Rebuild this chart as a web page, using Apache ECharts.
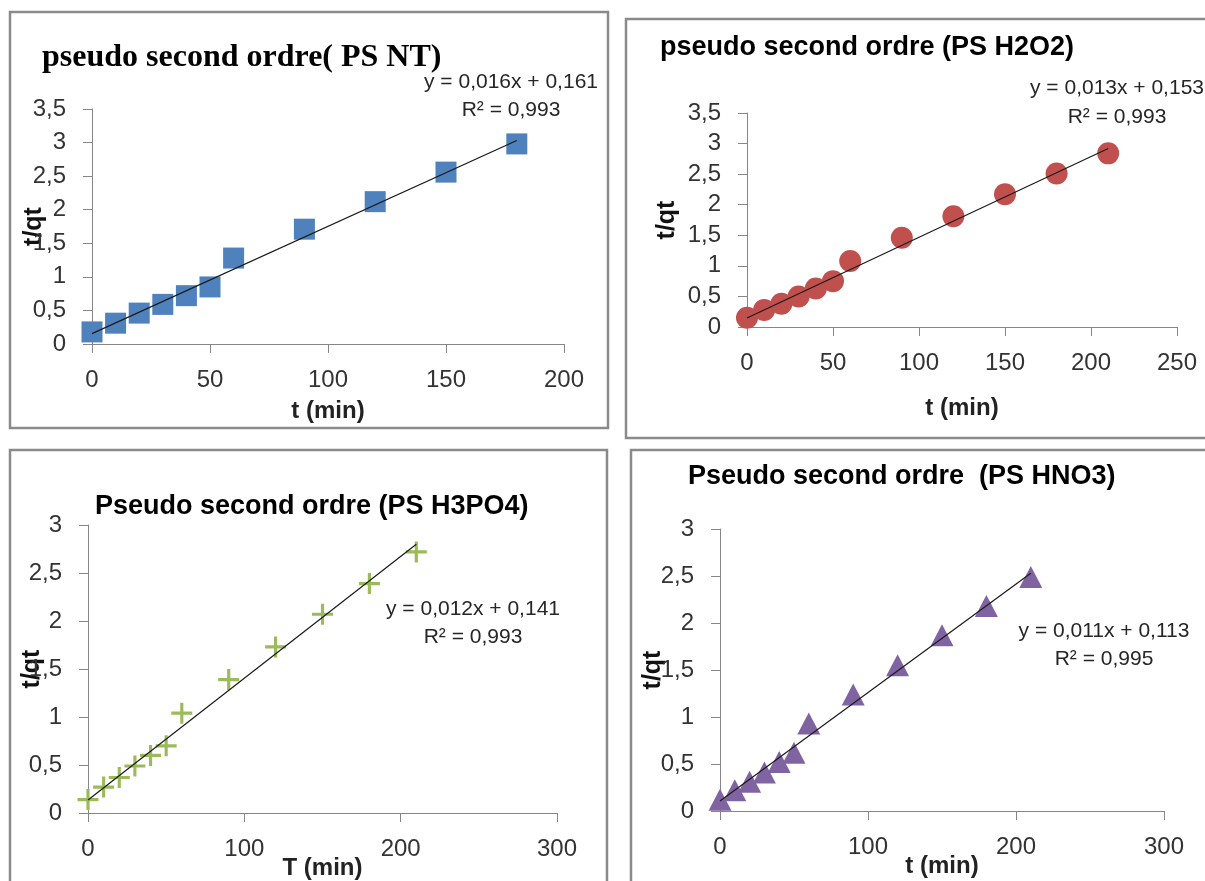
<!DOCTYPE html>
<html>
<head>
<meta charset="utf-8">
<script src="https://cdn.jsdelivr.net/npm/echarts@6/dist/echarts.min.js"></script>
<style>
html,body{margin:0;padding:0;background:#fff;}
#chart{width:1205px;height:881px;}
</style>
</head>
<body>
<div id="chart"></div>
<script>
// ---- data ----
const titles = ['pseudo second ordre( PS NT)', 'pseudo second ordre (PS H2O2)', 'Pseudo second ordre (PS H3PO4)', 'Pseudo second ordre  (PS HNO3)'];
const xNames = ['t (min)', 't (min)', 'T (min)', 't (min)'];
const yName = 't/qt';
const eqTexts = ['y = 0,016x + 0,161', 'y = 0,013x + 0,153', 'y = 0,012x + 0,141', 'y = 0,011x + 0,113'];
const r2Texts = ['R² = 0,993', 'R² = 0,993', 'R² = 0,993', 'R² = 0,995'];

const tNT = [0, 10, 20, 30, 40, 50, 60, 90, 120, 150, 180];
const qNT = [0.18, 0.31, 0.46, 0.59, 0.72, 0.85, 1.28, 1.71, 2.12, 2.56, 2.98];
const tH2O2 = [0, 10, 20, 30, 40, 50, 60, 90, 120, 150, 180, 210];
const qH2O2 = [0.15, 0.28, 0.38, 0.50, 0.63, 0.75, 1.08, 1.46, 1.81, 2.17, 2.51, 2.84];
const tH3PO4 = [0, 10, 20, 30, 40, 50, 60, 90, 120, 150, 180, 210];
const qH3PO4 = [0.14, 0.27, 0.37, 0.49, 0.60, 0.70, 1.04, 1.39, 1.73, 2.07, 2.39, 2.72];
const tHNO3 = [0, 10, 20, 30, 40, 50, 60, 90, 120, 150, 180, 210];
const qHNO3 = [0.12, 0.22, 0.31, 0.41, 0.52, 0.62, 0.93, 1.24, 1.55, 1.87, 2.18, 2.49];

// trend line end points (as drawn in the picture)
const fitNT = [[0, 0.155], [180, 3.03]];
const fitH2O2 = [[0, 0.147], [210, 2.92]];
const fitH3PO4 = [[0, 0.135], [210, 2.80]];
const fitHNO3 = [[0, 0.106], [210, 2.53]];

// axis ranges / ticks
const xMax = [200, 250, 300, 300];
const xStep = [50, 50, 100, 100];
const yMax = [3.5, 3.5, 3, 3];
const yStep = [0.5, 0.5, 0.5, 0.5];

// ---- layout ----
const SANS = '"Liberation Sans", Arial, sans-serif';
const panels = [
  { t: tNT, q: qNT, fit: fitNT, color: '#4F81BD', symbol: 'rect', size: 21,
    grid: { left: 92, top: 109, width: 472, height: 235 },
    xGap: 55, yGap: 45, border: [10, 12, 598, 416],
    title: { x: 42, y: 58, font: 'bold 32px "Liberation Serif", "Times New Roman", serif' },
    eq: { x: 511, y1: 82, y2: 110 } },
  { t: tH2O2, q: qH2O2, fit: fitH2O2, color: '#C0504D', symbol: 'circle', size: 22,
    grid: { left: 747, top: 113, width: 430, height: 214 },
    xGap: 69, yGap: 67, border: [626, 19, 620, 419],
    title: { x: 660, y: 48, font: 'bold 27px ' + SANS },
    eq: { x: 1117, y1: 88, y2: 117 } },
  { t: tH3PO4, q: qH3PO4, fit: fitH3PO4, color: '#9BBB59', symbol: 'path://M8.5,0h3v8.5h8.5v3h-8.5v8.5h-3v-8.5h-8.5v-3h8.5z', size: 21,
    grid: { left: 88, top: 525, width: 469, height: 288 },
    xGap: 43, yGap: 43, border: [10, 450, 597, 460],
    title: { x: 95, y: 507, font: 'bold 27px ' + SANS },
    eq: { x: 473, y1: 609, y2: 637 } },
  { t: tHNO3, q: qHNO3, fit: fitHNO3, color: '#8064A2', symbol: 'triangle', size: [23, 22],
    grid: { left: 720, top: 529, width: 444, height: 282 },
    xGap: 43, yGap: 54, border: [631, 450, 620, 460],
    title: { x: 688, y: 477, font: 'bold 27px ' + SANS },
    eq: { x: 1104, y1: 631, y2: 659 } }
];

const axisGray = '#868686';
const labelColor = '#333333';
const grids = [], xAxes = [], yAxes = [], series = [], graphics = [];

panels.forEach((p, i) => {
  grids.push(Object.assign({ outerBoundsMode: 'none', containLabel: false }, p.grid));
  xAxes.push({
    type: 'value', gridIndex: i, min: 0, max: xMax[i], interval: xStep[i],
    name: xNames[i], nameLocation: 'middle', nameGap: p.xGap, nameMoveOverlap: false,
    nameTextStyle: { fontFamily: SANS, fontWeight: 'bold', fontSize: 24, color: '#222', verticalAlign: 'top' },
    axisLine: { show: true, onZero: false, lineStyle: { color: axisGray, width: 1 } },
    axisTick: { show: true, inside: false, length: 9, lineStyle: { color: axisGray, width: 1 } },
    axisLabel: { fontFamily: SANS, fontSize: 24, color: labelColor, margin: 24 },
    splitLine: { show: false }
  });
  yAxes.push({
    type: 'value', gridIndex: i, min: 0, max: yMax[i], interval: yStep[i],
    name: yName, nameLocation: 'middle', nameGap: p.yGap, nameRotate: 90, nameMoveOverlap: false,
    nameTextStyle: { fontFamily: SANS, fontWeight: 'bold', fontSize: 25, color: '#111' },
    axisLine: { show: true, onZero: false, lineStyle: { color: axisGray, width: 1 } },
    axisTick: { show: true, inside: false, length: 9, lineStyle: { color: axisGray, width: 1 } },
    axisLabel: { fontFamily: SANS, fontSize: 24, color: labelColor, margin: 26,
      formatter: v => String(v).replace('.', ',') },
    splitLine: { show: false }
  });
  series.push({
    type: 'scatter', xAxisIndex: i, yAxisIndex: i,
    symbol: p.symbol, symbolSize: p.size,
    itemStyle: { color: p.color, opacity: 1 },
    data: p.t.map((t, k) => [t, p.q[k]]), z: 2, silent: true
  });
  series.push({
    type: 'line', xAxisIndex: i, yAxisIndex: i, data: p.fit,
    showSymbol: false, symbol: 'none',
    lineStyle: { color: '#1a1a1a', width: 1.2 }, z: 3, silent: true
  });
  graphics.push({
    type: 'rect', shape: { x: p.border[0], y: p.border[1], width: p.border[2], height: p.border[3] },
    style: { fill: 'none', stroke: '#8a8a8a', lineWidth: 2.5 }, silent: true
  });
  graphics.push({
    type: 'text', x: p.title.x, y: p.title.y,
    style: { text: titles[i], font: p.title.font, fill: '#000', textAlign: 'left', textVerticalAlign: 'middle' }
  });
  graphics.push({
    type: 'text', x: p.eq.x, y: p.eq.y1,
    style: { text: eqTexts[i], font: '21px ' + SANS, fill: '#262626', textAlign: 'center', textVerticalAlign: 'middle' }
  });
  graphics.push({
    type: 'text', x: p.eq.x, y: p.eq.y2,
    style: { text: r2Texts[i], font: '21px ' + SANS, fill: '#262626', textAlign: 'center', textVerticalAlign: 'middle' }
  });
});

const chart = echarts.init(document.getElementById('chart'), null, { renderer: 'canvas' });
chart.setOption({
  animation: false,
  backgroundColor: '#ffffff',
  grid: grids,
  xAxis: xAxes,
  yAxis: yAxes,
  series: series,
  graphic: graphics
});
</script>
</body>
</html>
